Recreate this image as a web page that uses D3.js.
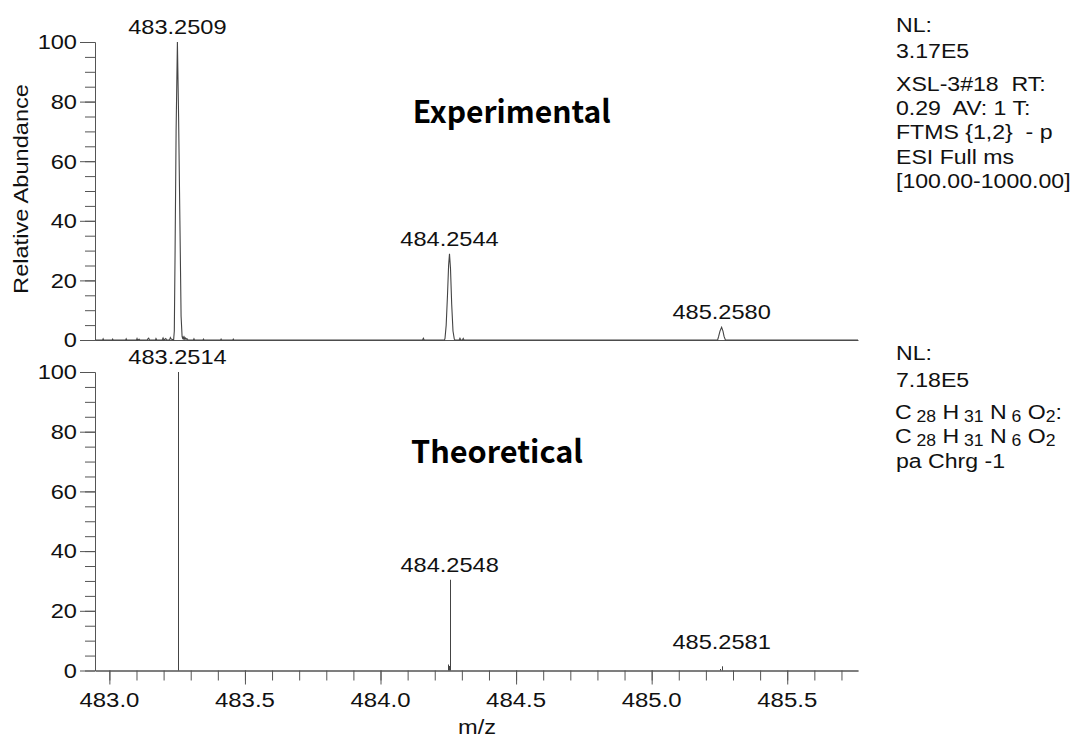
<!DOCTYPE html>
<html>
<head>
<meta charset="utf-8">
<script src="https://cdn.jsdelivr.net/npm/d3@7"></script>
<style>
  body { margin: 0; background: #fff; }
  svg { display: block; font-family: "Liberation Sans", Arial, sans-serif; }
</style>
</head>
<body>
<svg id="chart" width="1080" height="740"></svg>
<script>
// experimental profile, [m/z, relative abundance]
const expProfile = [
  [482.947, 0],
  [482.975, 0], [482.977, 0.4], [482.979, 0],
  [483.010, 0], [483.012, 0.3], [483.014, 0],
  [483.060, 0], [483.062, 0.4], [483.064, 0],
  [483.100, 0], [483.102, 0.5], [483.104, 0], [483.110, 0.3], [483.113, 0],
  [483.140, 0], [483.142, 0.4], [483.145, 0.6], [483.148, 0],
  [483.170, 0], [483.172, 0.5], [483.175, 0],
  [483.195, 0], [483.198, 0.7], [483.201, 0], [483.208, 0.5], [483.211, 0],
  [483.222, 0], [483.225, 0.8], [483.228, 0.3],
  [483.2370, 0], [483.2395, 3], [483.2424, 30], [483.2461, 70], [483.2509, 100],
  [483.2553, 75], [483.2601, 40], [483.2645, 8], [483.2682, 1.2], [483.2700, 0.6],
  [483.2720, 1.0], [483.2740, 0.4], [483.2760, 0.9], [483.2780, 0.3], [483.2800, 0.7],
  [483.2830, 0.2], [483.2860, 0.5], [483.2900, 0],
  [483.310, 0], [483.312, 0.4], [483.314, 0],
  [483.345, 0], [483.347, 0.3], [483.349, 0],
  [483.410, 0], [483.412, 0.3], [483.414, 0],
  [483.455, 0], [483.457, 0.3], [483.459, 0],
  [484.155, 0], [484.158, 0.6], [484.161, 0],
  [484.2360, 0], [484.2378, 0.5], [484.2422, 5], [484.2470, 15], [484.2511, 25],
  [484.2544, 28.9], [484.2581, 24], [484.2625, 12], [484.2673, 3], [484.2721, 0.3], [484.2747, 0],
  [484.290, 0], [484.293, 0.6], [484.296, 0], [484.302, 0], [484.305, 0.5], [484.308, 0],
  [485.2433, 0], [485.2470, 1.2], [485.2520, 3], [485.2580, 4.3], [485.2630, 3],
  [485.2670, 1.2], [485.2720, 0],
  [485.761, 0]
]
const expPeakMz = [483.2509, 484.2544, 485.2580]
const expPeakLevel = [100, 28.9, 4.3]

// theoretical sticks
const theoMz = [483.2514, 484.2486, 484.2530, 484.2548, 485.2519, 485.2581]
const theoAbund = [100, 2.0, 1.5, 30.4, 0.5, 1.4]
const theoPeakMz = [483.2514, 484.2548, 485.2581]
const theoPeakLevel = [100, 30.4, 4.5]

const xTicks = [483.0, 483.5, 484.0, 484.5, 485.0, 485.5]
const yTicks = [0, 20, 40, 60, 80, 100]

const infoTop = ['NL:', '3.17E5', 'XSL-3#18  RT:', '0.29  AV: 1 T:', 'FTMS {1,2}  - p', 'ESI Full ms', '[100.00-1000.00]']
const infoTopY = [31.7, 58.3, 90.7, 115, 139.3, 163.6, 188]
const infoBottom = ['NL:', '7.18E5']
const infoBottomY = [360, 386.5]
const formula = [['C', '28'], ['H', '31'], ['N', '6'], ['O', '2']]

const svg = d3.select('#chart')
const ink = '#111'
const axisColor = '#555'

const x = d3.scaleLinear().domain([482.947, 485.761]).range([95, 858])
const yTop = d3.scaleLinear().domain([0, 100]).range([340, 42])
const yBot = d3.scaleLinear().domain([0, 100]).range([670.5, 372])

// text is drawn a bit wider than Arial in the original, so stretch it
function label(g, px, py, s, size, anchor, sx) {
  return g.append('text')
    .attr('transform', `translate(${px},${py}) scale(${sx},1)`)
    .attr('text-anchor', anchor)
    .attr('font-size', size)
    .attr('fill', ink)
    .style('white-space', 'pre')
    .text(s)
}

function drawYAxis(y) {
  const g = svg.append('g').attr('color', axisColor)
  g.append('g').attr('transform', 'translate(95,0)')
    .call(d3.axisLeft(y).tickValues(d3.range(0, 101, 5)).tickSize(10).tickSizeOuter(0).tickFormat(''))
  g.append('g').attr('transform', 'translate(95,0)')
    .call(d3.axisLeft(y).tickValues(yTicks).tickSize(15).tickSizeOuter(0).tickFormat(''))
  yTicks.forEach(v => label(svg, 77, y(v) + 7.3, String(v), 20, 'end', 1.18))
}

// ---- top panel (experimental)
svg.append('g').attr('color', axisColor)
  .attr('transform', `translate(0,${yTop(0)})`)
  .call(d3.axisBottom(x).tickValues([]).tickSizeOuter(0))
drawYAxis(yTop)

svg.append('path')
  .datum(expProfile)
  .attr('fill', 'none')
  .attr('stroke', '#444')
  .attr('stroke-width', 1.1)
  .attr('d', d3.line().x(d => x(d[0])).y(d => yTop(d[1])))

expPeakMz.forEach((m, i) => label(svg, x(m), yTop(expPeakLevel[i]) - 8, m.toFixed(4), 20, 'middle', 1.18))

// ---- bottom panel (theoretical)
const xg = svg.append('g').attr('color', axisColor).attr('transform', `translate(0,${yBot(0)})`)
xg.append('g').call(d3.axisBottom(x).tickValues(d3.range(483.0, 485.75, 0.1)).tickSize(10).tickSizeOuter(0).tickFormat(''))
xg.append('g').call(d3.axisBottom(x).tickValues(xTicks).tickSize(14).tickSizeOuter(0).tickFormat(''))
xTicks.forEach(v => label(svg, x(v), 707, v.toFixed(1), 20.5, 'middle', 1.17))
drawYAxis(yBot)

svg.append('g').selectAll('line')
  .data(theoMz)
  .join('line')
  .attr('x1', d => Math.round(x(d)) + 0.5)
  .attr('x2', d => Math.round(x(d)) + 0.5)
  .attr('y1', yBot(0))
  .attr('y2', (d, i) => yBot(theoAbund[i]))
  .attr('stroke', '#444')
  .attr('stroke-width', 1)

theoPeakMz.forEach((m, i) => label(svg, x(m), yBot(theoPeakLevel[i]) - 8, m.toFixed(4), 20, 'middle', 1.18))

// ---- axis titles
svg.append('text')
  .attr('transform', 'translate(28,189) rotate(-90) scale(1.18,1)')
  .attr('text-anchor', 'middle')
  .attr('font-size', 20)
  .attr('fill', ink)
  .text('Relative Abundance')
label(svg, 477, 734, 'm/z', 20, 'middle', 1.18)

// ---- panel titles
function title(s, px, py, w) {
  svg.append('text')
    .attr('x', px).attr('y', py)
    .attr('font-family', '"Noto Sans CJK SC", "Noto Sans", sans-serif')
    .attr('font-weight', 'bold')
    .attr('font-size', 31)
    .attr('fill', '#000')
    .attr('textLength', w)
    .attr('lengthAdjust', 'spacingAndGlyphs')
    .text(s)
}
title('Experimental', 412.7, 123.3, 198)
title('Theoretical', 411, 463, 172)

// ---- scan info on the right
infoTop.forEach((s, i) => label(svg, 896, infoTopY[i], s, 21, 'start', 1.1))
infoBottom.forEach((s, i) => label(svg, 896, infoBottomY[i], s, 21, 'start', 1.1))

// element symbols with lowered, smaller counts; every symbol goes back to the baseline
function formulaLine(py, tail) {
  const t = svg.append('text')
    .attr('transform', `translate(895,${py}) scale(1.1,1)`)
    .attr('font-size', 21)
    .attr('fill', ink)
    .style('white-space', 'pre')
  formula.forEach(([el, n], i) => {
    t.append('tspan').attr('dy', i ? -3 : 0).text((i ? ' ' : '') + el)
    t.append('tspan').attr('font-size', 16).attr('dy', 3).text((el === 'O' ? '' : ' ') + n)
  })
  if (tail) t.append('tspan').attr('dy', -3).text(tail)
}
formulaLine(419, ':')
formulaLine(443, '')
label(svg, 896, 468, 'pa Chrg -1', 21, 'start', 1.1)
</script>
</body>
</html>
